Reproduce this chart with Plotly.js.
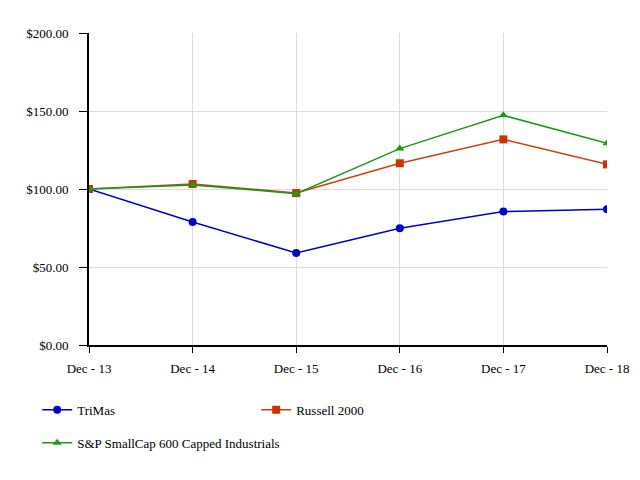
<!DOCTYPE html>
<html><head><meta charset="utf-8">
<script src="https://cdn.plot.ly/plotly-3.0.1.min.js"></script>
<style>html,body{margin:0;padding:0;background:#fff}#chart{width:640px;height:480px}</style>
</head><body><div id="chart"></div>
<script>
const categories = ["Dec - 13","Dec - 14","Dec - 15","Dec - 16","Dec - 17","Dec - 18"];
const trimas = [100.00, 78.8, 59.0, 74.8, 85.5, 87.0];
const russell = [100.00, 103.2, 97.4, 116.5, 131.8, 115.8];
const spIndustrials = [100.00, 102.6, 97.0, 125.9, 147.2, 129.3];
const yTicks = [0, 50, 100, 150, 200];

const font = {family: "Liberation Serif", size: 13, color: "#000"};
const traces = [
  {x: categories, y: trimas, name: "TriMas", type: "scatter", mode: "lines+markers",
   line: {color: "#0000CC", width: 1.5}, marker: {symbol: "circle", size: 8, color: "#0000CC"}, legend: "legend"},
  {x: categories, y: russell, name: "Russell 2000", type: "scatter", mode: "lines+markers",
   line: {color: "#CC4010", width: 1.5}, marker: {symbol: "square", size: 8, color: "#CC3300"}, legend: "legend"},
  {x: categories, y: spIndustrials, name: "S&P SmallCap 600 Capped Industrials", type: "scatter", mode: "lines+markers",
   line: {color: "#1A991A", width: 1.5}, marker: {symbol: "triangle-up", size: 8, color: "#1A991A"}, legend: "legend2"}
];
const layout = {
  width: 640, height: 480,
  margin: {l: 89, r: 33, t: 33, b: 135},
  paper_bgcolor: "#fff", plot_bgcolor: "#fff",
  font: font,
  showlegend: true,
  xaxis: {type: "category", range: [0, 5], showgrid: true, gridcolor: "#dddddd", gridwidth: 1,
          showline: true, linecolor: "#000", linewidth: 2, ticks: "outside", ticklen: 6, tickcolor: "#000",
          ticklabelstandoff: 4,
          zeroline: false, fixedrange: true, tickfont: font},
  yaxis: {range: [0, 200], tickvals: yTicks, tickformat: "$.2f", showgrid: true, gridcolor: "#dddddd", gridwidth: 1,
          showline: true, linecolor: "#000", linewidth: 2, ticks: "outside", ticklen: 8, tickcolor: "#000",
          ticklabelstandoff: 8,
          zeroline: false, fixedrange: true, tickfont: font},
  legend: {orientation: "h", x: -0.1, xanchor: "left", y: -0.16, yanchor: "top",
           entrywidth: 174, entrywidthmode: "pixels", font: font, bgcolor: "rgba(0,0,0,0)"},
  legend2: {orientation: "h", x: -0.1, xanchor: "left", y: -0.265, yanchor: "top",
           font: font, bgcolor: "rgba(0,0,0,0)"}
};
Plotly.newPlot("chart", traces, layout, {displayModeBar: false, staticPlot: true});
</script></body></html>
